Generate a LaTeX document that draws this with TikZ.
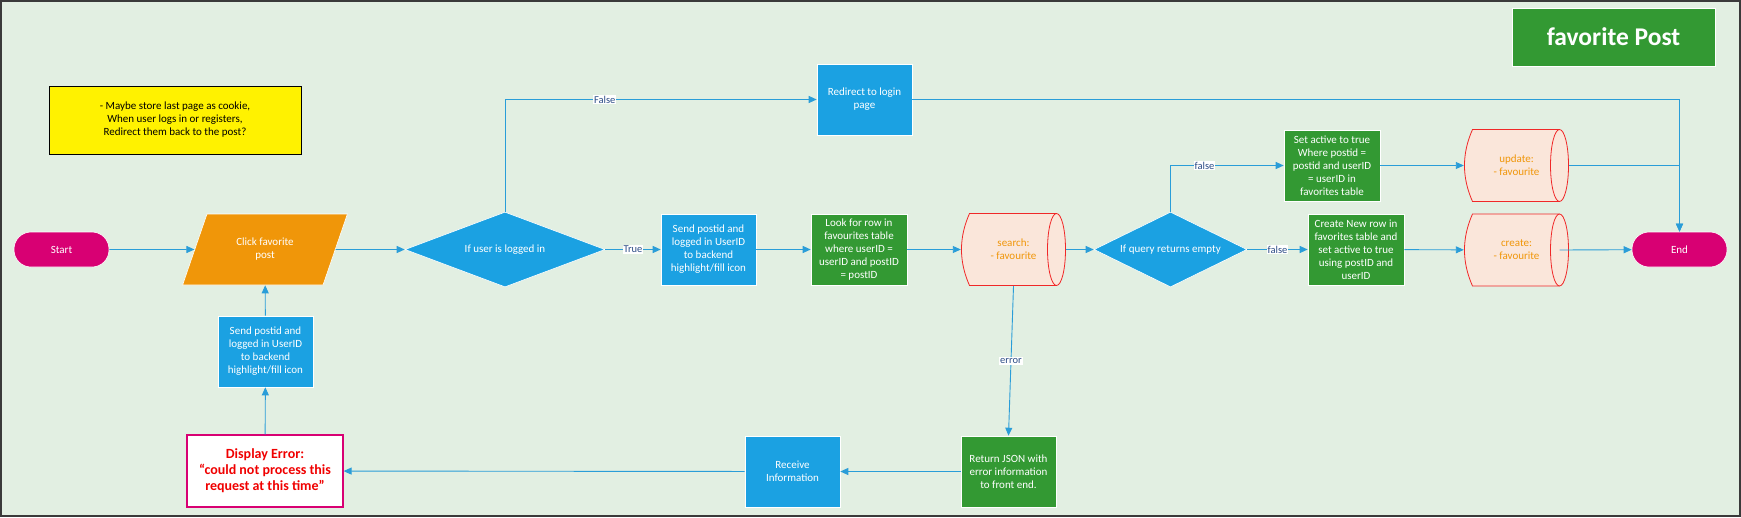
\documentclass[tikz,border=0pt]{standalone}
\usepackage{fontspec}
\setmainfont{Carlito}
\usetikzlibrary{shapes.geometric,arrows.meta}

\definecolor{bgc}{HTML}{E2EFE2}
\definecolor{framec}{HTML}{3A3A3A}
\definecolor{vblue}{HTML}{1BA1E2}
\definecolor{vgreen}{HTML}{339933}
\definecolor{vorange}{HTML}{F09609}
\definecolor{vmagenta}{HTML}{D80073}
\definecolor{cylfill}{HTML}{FAE6DA}
\definecolor{cylline}{HTML}{F02828}
\definecolor{linec}{HTML}{2A9DD8}
\definecolor{lblc}{HTML}{2C4C86}
\definecolor{errred}{HTML}{F00000}

\begin{document}
\begin{tikzpicture}[
  x=1pt, y=-1pt,
  font=\fontsize{11}{13}\selectfont,
  base/.style={align=center,inner sep=2pt,text=white,draw=white,line width=0.6pt},
  proc/.style={base,fill=vblue,minimum width=95pt,minimum height=71pt},
  dbop/.style={base,fill=vgreen,minimum width=95pt,minimum height=71pt},
  term/.style={base,fill=vmagenta,rounded corners=17pt,
    minimum width=95pt,minimum height=35pt},
  io/.style={base,trapezium,fill=vorange,trapezium left angle=64,
    trapezium right angle=116,trapezium stretches=true,
    minimum width=166pt,minimum height=71pt},
  decide/.style={base,diamond,fill=vblue,inner sep=0pt,minimum height=75pt},
  store/.style={rectangle,text=vorange,align=center,inner sep=2pt,
    minimum width=105pt,minimum height=73pt,
    path picture={
      \coordinate (cc) at (path picture bounding box.center);
      \filldraw[fill=cylfill,draw=cylline,line width=0.8pt]
        ([xshift=-44pt,yshift=36pt]cc) -- ([xshift=43pt,yshift=36pt]cc)
        arc[start angle=90,end angle=-90,x radius=9pt,y radius=36pt]
        -- ([xshift=-44pt,yshift=-36pt]cc)
        .. controls ([xshift=-54.7pt,yshift=-12pt]cc) and ([xshift=-54.7pt,yshift=12pt]cc)
        .. ([xshift=-44pt,yshift=36pt]cc) -- cycle;
      \draw[cylline,line width=0.8pt] ([xshift=43pt,yshift=36pt]cc)
        arc[start angle=90,end angle=270,x radius=9pt,y radius=36pt];}},
  note/.style={draw=black,fill=yellow,line width=0.9pt,align=center,
    minimum width=252pt,minimum height=68pt},
  errbox/.style={draw=vmagenta,fill=white,line width=1.1pt,align=center,
    text=errred,font=\fontsize{14}{16}\selectfont\bfseries,
    minimum width=156pt,minimum height=72pt},
  title/.style={base,fill=vgreen,font=\fontsize{25.5}{30}\selectfont\bfseries,
    minimum width=203pt,minimum height=58pt},
  conn/.style={draw=linec,line width=0.9pt,-{Triangle[length=8pt,width=7pt]}},
  lbl/.style={fill=white,text=lblc,inner sep=1pt,font=\fontsize{10.5}{12}\selectfont}]

\fill[bgc] (0,0) rectangle (1741,517);
\draw[framec,line width=2pt] (1,1) rectangle (1740,516);

\node[note] (memo) at (175,120) {- Maybe store last page as cookie,\\When user logs in or registers,\\Redirect them back to the post?};
\node[title] (head) at (1613.5,37) {favorite Post};

\node[term] (start) at (61.5,249.5) {Start};
\node[io] (click) at (265,249.5) {Click favorite\\post};
\node[decide,minimum width=200pt,aspect=2.67] (login) at (505,249.5) {If user is logged in};
\node[proc] (redirect) at (864.5,99.5) {Redirect to login\\page};
\node[proc] (send) at (708.5,249.5) {Send postid and\\logged in UserID\\to backend\\highlight/fill icon};
\node[dbop,minimum width=96pt] (look) at (859,249.5) {Look for row in\\favourites table\\where userID =\\userID and postID\\= postID};
\node[store] (search) at (1013.5,249.5) {search:\\- favourite};
\node[decide,minimum width=153pt,aspect=2.04] (query) at (1170.5,249.5) {If query returns empty};
\node[dbop,minimum width=96pt] (setact) at (1332,165.5) {Set active to true\\Where postid =\\postid and userID\\= userID in\\favorites table};
\node[dbop,minimum width=96pt] (newrow) at (1356,249.5) {Create New row in\\favorites table and\\set active to true\\using postID and\\userID};
\node[store] (upd) at (1516.5,165.5) {update:\\- favourite};
\node[store] (crt) at (1516.5,250) {create:\\- favourite};
\node[term] (end) at (1679.5,249.5) {End};

\node[proc] (resend) at (265.5,351.5) {Send postid and\\logged in UserID\\to backend\\highlight/fill icon};
\node[errbox] (err) at (265,471) {Display Error:\\“could not process this\\request at this time”};
\node[proc] (receive) at (792.5,471.5) {Receive\\Information};
\node[dbop] (json) at (1008.5,471.5) {Return JSON with\\error information\\to front end.};

\draw[conn] (start) -- (click);
\draw[conn] (click) -- (login);
\draw[conn] (login) -- node[lbl]{True} (send);
\draw[conn] (login.north) |- node[lbl,pos=0.66]{False} (redirect.west);
\draw[conn] (redirect.east) -| (end.north);
\draw[conn] (send) -- (look);
\draw[conn] (look) -- (search);
\draw[conn] (search) -- (query);
\draw[conn] (query) -- node[lbl]{false} (newrow);
\draw[conn] (query.north) |- node[lbl,pos=0.65]{false} (setact.west);
\draw[conn] (setact) -- (upd);
\draw[conn] (upd.east) -| (end.north);
\draw[conn] (newrow) -- (crt);
\draw[conn] ([xshift=-9.5pt]crt.east) -- (end);
\draw[conn] (search.south) -- node[lbl]{error} (json.north);
\draw[conn] (json) -- (receive);
\draw[conn] (receive) -- (err);
\draw[conn] (err) -- (resend);
\draw[conn] (resend) -- (click);
\end{tikzpicture}
\end{document}
